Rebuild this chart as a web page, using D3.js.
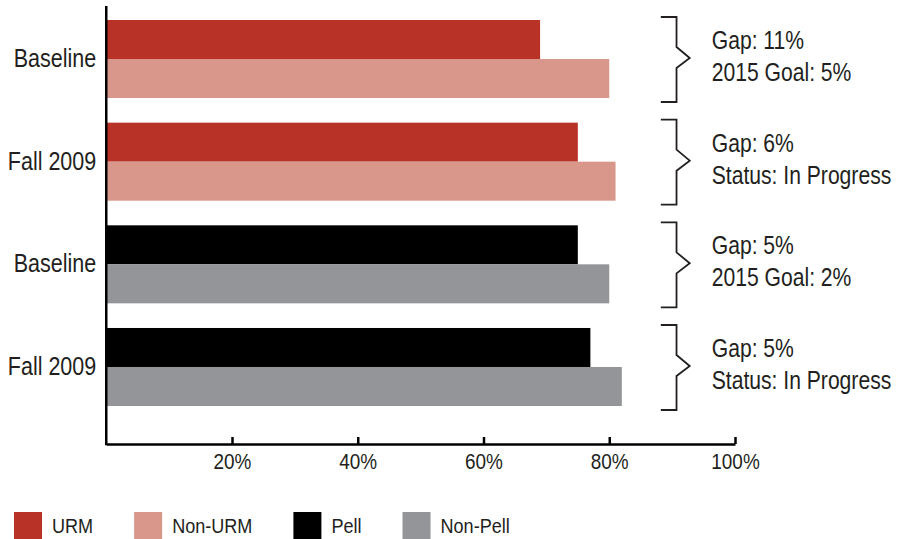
<!DOCTYPE html>
<html>
<head>
<meta charset="utf-8">
<script src="https://cdn.jsdelivr.net/npm/d3@7"></script>
<style>
  html, body { margin: 0; padding: 0; background: #fff; }
  svg { display: block; }
</style>
</head>
<body>
<div id="chart"></div>
<script>
// groups (top to bottom) and their labels
const groupLabels = ["Baseline", "Fall 2009", "Baseline", "Fall 2009"];
// which legend series the two bars of each group belong to
const groupSeries = [["URM", "Non-URM"], ["URM", "Non-URM"], ["Pell", "Non-Pell"], ["Pell", "Non-Pell"]];
// values in % (first bar / second bar)
const firstValues  = [69, 75, 75, 77];
const secondValues = [80, 81, 80, 82];
// notes to the right of each group
const noteLines = [
  ["Gap: 11%", "2015 Goal: 5%"],
  ["Gap: 6%", "Status: In Progress"],
  ["Gap: 5%", "2015 Goal: 2%"],
  ["Gap: 5%", "Status: In Progress"]
];
const seriesNames = ["URM", "Non-URM", "Pell", "Non-Pell"];
const tickValues = [20, 40, 60, 80, 100];

const colors = { "URM": "#b83227", "Non-URM": "#d9968b", "Pell": "#000000", "Non-Pell": "#939598" };
const font = "'Liberation Sans', Arial, sans-serif";
const ink = "#231f20";
const narrow = 0.86; // no condensed font installed, squeeze glyphs instead

const W = 900, H = 539;

// squeeze a text selection horizontally (keeps anchor)
function condense(sel, k = narrow) {
  sel.each(function() {
    const len = this.getComputedTextLength();
    d3.select(this)
      .attr("textLength", len * k)
      .attr("lengthAdjust", "spacingAndGlyphs");
  });
}

const svg = d3.select("#chart").append("svg")
  .attr("width", W)
  .attr("height", H)
  .attr("viewBox", `0 0 ${W} ${H}`);

const x = d3.scaleLinear().domain([0, 100]).range([106.25, 735]);

const y = d3.scaleBand()
  .domain(d3.range(groupLabels.length))
  .range([20, 406])
  .paddingInner(0.24)
  .paddingOuter(0);

const bw = y.bandwidth();
const sub = d3.scaleBand().domain([0, 1]).range([0, bw]);

const rows = groupLabels.map((label, i) => ({
  i,
  label,
  bars: [
    { name: groupSeries[i][0], value: firstValues[i] },
    { name: groupSeries[i][1], value: secondValues[i] }
  ],
  notes: noteLines[i]
}));

// bars
const groups = svg.selectAll(".grp")
  .data(rows)
  .enter()
  .append("g")
  .attr("class", "grp")
  .attr("transform", d => `translate(0,${y(d.i)})`);

groups.selectAll("rect")
  .data(d => d.bars)
  .enter()
  .append("rect")
  .attr("x", x(0))
  .attr("y", (d, j) => sub(j))
  .attr("width", d => x(d.value) - x(0))
  .attr("height", sub.bandwidth())
  .attr("fill", d => colors[d.name]);

// x axis
const axisY = 444;
const gx = svg.append("g")
  .attr("transform", `translate(0,${axisY})`)
  .call(d3.axisBottom(x)
    .tickValues(tickValues)
    .tickSize(-7)
    .tickSizeOuter(0)
    .tickPadding(9)
    .tickFormat(d => d + "%"));

gx.select(".domain").attr("stroke", "#000").attr("stroke-width", 2.5);
gx.selectAll(".tick line").attr("stroke", "#000").attr("stroke-width", 2.5);
gx.selectAll(".tick text")
  .attr("fill", ink)
  .attr("font-size", "22px")
  .attr("font-family", font)
  .call(condense);

// y axis line
svg.append("line")
  .attr("x1", x(0)).attr("x2", x(0))
  .attr("y1", 6).attr("y2", axisY + 1.25)
  .attr("stroke", "#000")
  .attr("stroke-width", 2.5);

// y labels
const gy = svg.append("g")
  .attr("transform", `translate(${x(0) - 1},0)`)
  .call(d3.axisLeft(y)
    .tickSize(0)
    .tickPadding(9)
    .tickFormat(i => groupLabels[i]));

gy.select(".domain").remove();
gy.selectAll(".tick text")
  .attr("fill", ink)
  .attr("font-size", "25px")
  .attr("font-family", font)
  .attr("dy", "0.32em")
  .call(condense);

// brackets
const bx0 = x(88.2), bx1 = x(90.7), bxp = x(92.8);
const bracket = d => {
  const top = y(d.i) - 3, bot = y(d.i) + bw + 4, mid = y(d.i) + bw / 2 - 1;
  return `M${bx0},${top} H${bx1} V${mid - 11} L${bxp},${mid} L${bx1},${mid + 10} V${bot} H${bx0}`;
};

svg.selectAll(".bracket")
  .data(rows)
  .enter()
  .append("path")
  .attr("class", "bracket")
  .attr("d", bracket)
  .attr("fill", "none")
  .attr("stroke", "#231f20")
  .attr("stroke-width", 1.8);

// notes, one text per line, squeezed with a transform so the box stays honest
const noteItems = rows.flatMap(r => r.notes.map((t, j) => ({ i: r.i, j, t })));
svg.selectAll(".note")
  .data(noteItems)
  .enter()
  .append("g")
  .attr("class", "note")
  .attr("transform", d => `translate(${x(96.3)},${y(d.i) + bw / 2 - 10 + d.j * 32}) scale(0.845,1)`)
  .append("text")
  .attr("fill", ink)
  .attr("font-size", "25px")
  .attr("font-family", font)
  .text(d => d.t);

// legend
const legend = svg.append("g").attr("transform", "translate(14,512)");
let lx = 0;
seriesNames.forEach(name => {
  const item = legend.append("g").attr("transform", `translate(${lx},0)`);
  item.append("rect")
    .attr("width", 28)
    .attr("height", 28)
    .attr("fill", colors[name]);
  const t = item.append("text")
    .attr("x", 38)
    .attr("y", 21)
    .attr("fill", ink)
    .attr("font-size", "21px")
    .attr("font-family", font)
    .text(name);
  const len = t.node().getComputedTextLength() * narrow;
  t.attr("textLength", len).attr("lengthAdjust", "spacingAndGlyphs");
  lx += 38 + len + 41;
});
</script>
</body>
</html>
